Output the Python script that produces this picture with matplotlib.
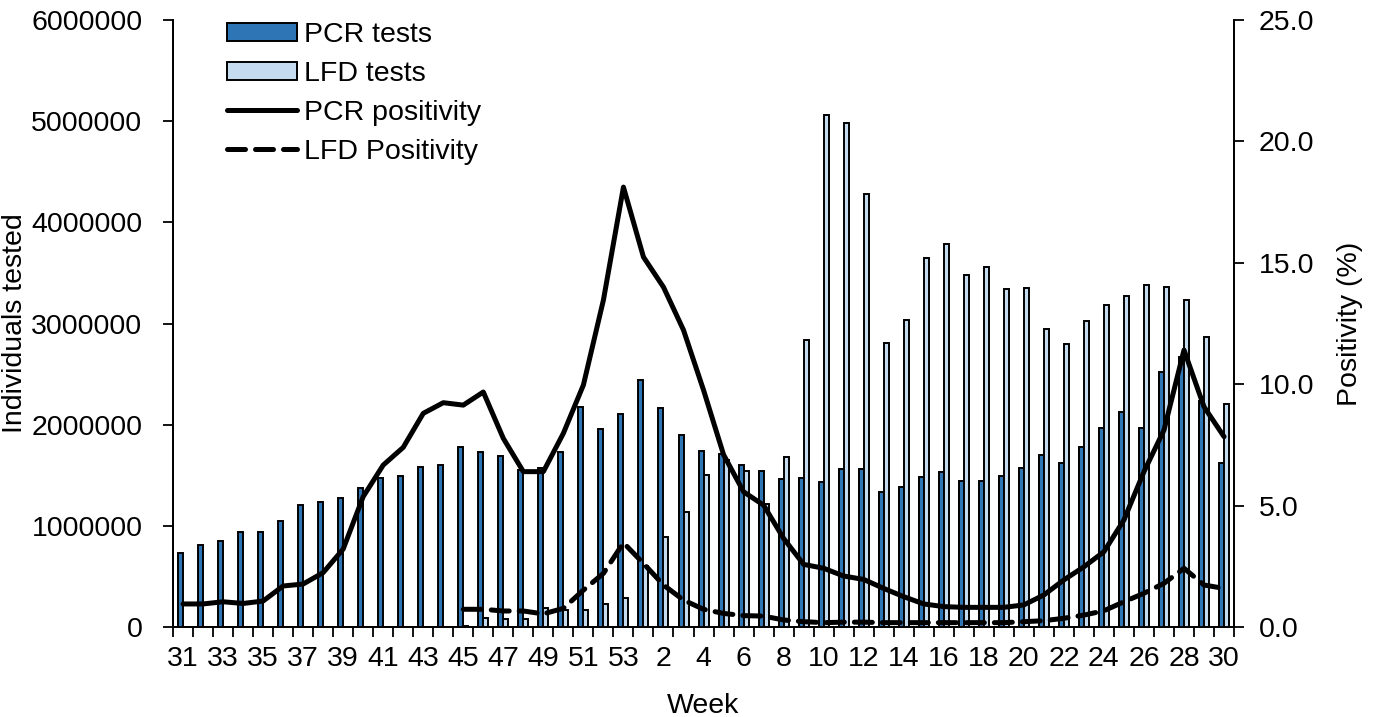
import numpy as np
import matplotlib
matplotlib.use('Agg')
import matplotlib.pyplot as plt
from matplotlib.ticker import FixedLocator, FuncFormatter

plt.rcParams['font.family'] = ['Liberation Sans', 'DejaVu Sans']

# week numbers (week 31 of 2020 to week 30 of 2021)
weeks = list(range(31, 54)) + list(range(1, 31))

pcr_tests = [
    730000, 815000, 855000, 935000, 935000, 1045000, 1205000, 1240000, 1275000, 1375000,
    1470000, 1490000, 1585000, 1600000, 1775000, 1730000, 1695000, 1555000, 1568000, 1733000,
    2178000, 1954000, 2105000, 2441000, 2161000, 1895000, 1743000, 1715000, 1606000, 1539000,
    1466000, 1476000, 1436000, 1562000, 1562000, 1334000, 1387000, 1485000, 1533000, 1446000,
    1440000, 1492000, 1575000, 1697000, 1618000, 1779000, 1967000, 2125000, 1967000, 2520000,
    2672000, 2230000, 1622000,
]

lfd_tests = [
    0, 0, 0, 0, 0, 0, 0, 0, 0, 0,
    0, 0, 0, 0, 12000, 86000, 76000, 76000, 185000, 168000,
    168000, 227000, 283000, 606000, 893000, 1137000, 1502000, 1650000, 1542000, 1216000,
    1677000, 2834000, 5058000, 4982000, 4280000, 2807000, 3033000, 3650000, 3789000, 3476000,
    3558000, 3338000, 3351000, 2949000, 2794000, 3028000, 3180000, 3272000, 3377000, 3364000,
    3235000, 2866000, 2207000,
]

pcr_positivity = [
    0.95, 0.95, 1.04, 0.97, 1.07, 1.69, 1.77, 2.24, 3.21, 5.37,
    6.67, 7.40, 8.80, 9.24, 9.14, 9.68, 7.77, 6.40, 6.40, 7.98,
    9.97, 13.47, 18.12, 15.24, 14.00, 12.23, 9.76, 7.10, 5.57, 5.02,
    3.65, 2.58, 2.42, 2.10, 1.96, 1.59, 1.25, 0.95, 0.84, 0.81,
    0.81, 0.81, 0.91, 1.32, 1.94, 2.48, 3.10, 4.41, 6.40, 8.11,
    11.41, 9.07, 7.84,
]

# LFD positivity only reported from week 45
lfd_positivity = [np.nan] * 14 + [
    0.73, 0.73, 0.66, 0.66, 0.54, 0.77,
    1.52, 2.21, 3.47, 2.62, 1.73, 1.11, 0.73, 0.56, 0.47, 0.45,
    0.29, 0.22, 0.18, 0.20, 0.20, 0.18, 0.18, 0.18, 0.18, 0.18,
    0.18, 0.18, 0.22, 0.26, 0.36, 0.49, 0.67, 1.04, 1.39, 1.80,
    2.42, 1.73, 1.59,
]

x = np.arange(len(weeks))
fs = 20.5

fig = plt.figure(figsize=(13.73, 7.17), dpi=100)
ax = fig.add_axes([0.126, 0.1255, 0.7728, 0.8465])
ax2 = ax.twinx()

bw = 0.25
b1 = ax.bar(x - bw / 2, pcr_tests, width=bw, color='#2E75B6', edgecolor='black', linewidth=1.4,
            label='PCR tests')
b2 = ax.bar(x + bw / 2, lfd_tests, width=bw, color='#C5DBEF', edgecolor='black', linewidth=1.4,
            label='LFD tests')

l1, = ax2.plot(x, pcr_positivity, color='black', linewidth=3.6, solid_capstyle='round',
               solid_joinstyle='round', label='PCR positivity')
l2, = ax2.plot(x, lfd_positivity, color='black', linewidth=3.6, linestyle=(0, (3.6, 2.0)),
               dash_capstyle='round', label='LFD Positivity')

ax.set_xlim(-0.5, len(weeks) - 0.5)
ax.set_ylim(0, 6000000)
ax2.set_ylim(0, 25)

ax.set_yticks(np.arange(0, 6000001, 1000000))
ax.yaxis.set_major_formatter(FuncFormatter(lambda v, p: '%d' % v))
ax2.set_yticks(np.arange(0, 25.1, 5))
ax2.yaxis.set_major_formatter(FuncFormatter(lambda v, p: '%.1f' % v))

ax.set_xticks(x[::2])
ax.set_xticklabels([str(w) for w in weeks[::2]])
ax.xaxis.set_minor_locator(FixedLocator(np.arange(-0.5, len(weeks), 1)))
ax.tick_params(axis='x', which='major', length=0, labelsize=fs, pad=14)
ax.tick_params(axis='x', which='minor', length=7, width=1.3)
ax.tick_params(axis='y', length=7, width=1.3, labelsize=fs, pad=15)
ax2.tick_params(axis='y', length=7, width=1.3, labelsize=fs, pad=11)

for a in (ax, ax2):
    a.spines['top'].set_visible(False)
    for s in ('left', 'right', 'bottom'):
        a.spines[s].set_linewidth(1.3)

ax.set_xlabel('Week', fontsize=fs, labelpad=15)
ax.set_ylabel('Individuals tested', fontsize=fs)
ax.yaxis.set_label_coords(-0.1365, 0.5)
ax2.set_ylabel('Positivity (%)', fontsize=fs, labelpad=16)

ax2.legend([b1, b2, l1, l2], ['PCR tests', 'LFD tests', 'PCR positivity', 'LFD Positivity'],
           loc='upper left', bbox_to_anchor=(0.04, 1.015), frameon=False, fontsize=fs,
           handlelength=2.45, handleheight=0.6, handletextpad=0.25, labelspacing=0.45,
           borderaxespad=0)

fig.savefig('out.png', dpi=100)
